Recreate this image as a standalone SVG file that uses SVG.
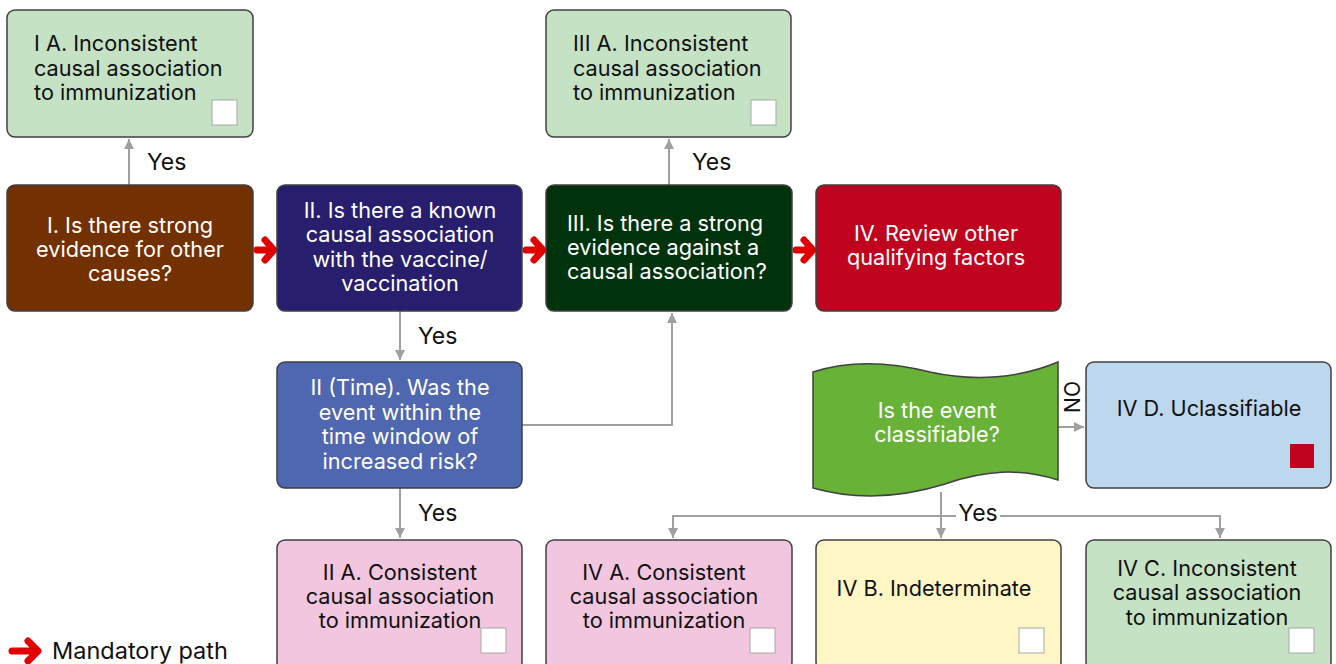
<svg xmlns="http://www.w3.org/2000/svg" width="1336" height="664" viewBox="0 0 1336 664">
<defs>
<style>
.box{stroke:#404040;stroke-width:1.5}
.t{font-family:Inter,"Liberation Sans",sans-serif;font-size:21.7px}
.y{font-size:23px}
.w{fill:#ffffff}
.k{fill:#111111}
.c{text-anchor:middle}
.con{fill:none;stroke:#a0a0a0;stroke-width:2}
.chk{fill:#ffffff;stroke:#a8a8a8;stroke-width:1}
.red{fill:none;stroke:#e00000;stroke-width:7;stroke-linecap:round;stroke-linejoin:round}
</style>
<marker id="ah2" viewBox="0 0 10 10" refX="10" refY="5" markerWidth="10" markerHeight="10" orient="auto" markerUnits="userSpaceOnUse">
<path d="M0,0 L10,5 L0,10 z" fill="#a0a0a0"/>
</marker>
</defs>
<rect width="1336" height="664" fill="#ffffff"/>

<g id="connectors">
<path class="con" d="M129,185 V139" marker-end="url(#ah2)"/>
<path class="con" d="M669,185 V139" marker-end="url(#ah2)"/>
<path class="con" d="M400,311 V360" marker-end="url(#ah2)"/>
<path class="con" d="M400,488 V538" marker-end="url(#ah2)"/>
<path class="con" d="M522,425 H672 V313" marker-end="url(#ah2)"/>
<path class="con" d="M1058,427 H1084" marker-end="url(#ah2)"/>
<path class="con" d="M941,492 V538" marker-end="url(#ah2)"/>
<path class="con" d="M941,516 H673 V538" marker-end="url(#ah2)"/>
<path class="con" d="M941,516 H1220 V538" marker-end="url(#ah2)"/>
<rect x="956" y="503" width="44" height="24" fill="#ffffff"/>
<text class="t y k" x="147" y="170">Yes</text>
<text class="t y k" x="692" y="170">Yes</text>
<text class="t y k" x="418" y="344">Yes</text>
<text class="t y k" x="418" y="521">Yes</text>
<text class="t y k c" x="978" y="521">Yes</text>
<text class="t k" x="0" y="0" transform="translate(1080,397) rotate(-90)" text-anchor="middle" style="font-size:21px">NO</text>
<path class="red" d="M257,250 H271 M265,240 L274,250 L265,260"/>
<path class="red" d="M526,250 H540 M534,240 L543,250 L534,260"/>
<path class="red" d="M796,250 H810 M804,240 L813,250 L804,260"/>
</g>

<g id="nodeIA">
<rect class="box" x="7" y="10" width="246" height="127" rx="8" fill="#c5e2c5"/>
<text class="t k" x="34" y="51">I A. Inconsistent</text>
<text class="t k" x="34" y="76">causal association</text>
<text class="t k" x="34" y="100">to immunization</text>
<rect class="chk" x="212" y="100" width="25" height="25"/>
</g>

<g id="nodeIIIA">
<rect class="box" x="546" y="10" width="245" height="127" rx="8" fill="#c5e2c5"/>
<text class="t k" x="573" y="51">III A. Inconsistent</text>
<text class="t k" x="573" y="76">causal association</text>
<text class="t k" x="573" y="100">to immunization</text>
<rect class="chk" x="751" y="100" width="25" height="25"/>
</g>

<g id="nodeI">
<rect class="box" x="7" y="185" width="246" height="126" rx="8" fill="#733000"/>
<text class="t w c" x="130" y="233">I. Is there strong</text>
<text class="t w c" x="130" y="257">evidence for other</text>
<text class="t w c" x="130" y="281">causes?</text>
</g>

<g id="nodeII">
<rect class="box" x="277" y="185" width="245" height="126" rx="8" fill="#271e6d"/>
<text class="t w c" x="400" y="218">II. Is there a known</text>
<text class="t w c" x="400" y="242">causal association</text>
<text class="t w c" x="400" y="267">with the vaccine/</text>
<text class="t w c" x="400" y="291">vaccination</text>
</g>

<g id="nodeIII">
<rect class="box" x="546" y="185" width="246" height="126" rx="8" fill="#00330c"/>
<text class="t w" x="567" y="231">III. Is there a strong</text>
<text class="t w" x="567" y="255">evidence against a</text>
<text class="t w" x="567" y="279">causal association?</text>
</g>

<g id="nodeIV">
<rect class="box" x="816" y="185" width="245" height="126" rx="8" fill="#c0041f"/>
<text class="t w c" x="936" y="241">IV. Review other</text>
<text class="t w c" x="936" y="265">qualifying factors</text>
</g>

<g id="nodeIITime">
<rect class="box" x="277" y="362" width="245" height="126" rx="8" fill="#4f66b0"/>
<text class="t w c" x="400" y="395">II (Time). Was the</text>
<text class="t w c" x="400" y="420">event within the</text>
<text class="t w c" x="400" y="444">time window of</text>
<text class="t w c" x="400" y="469">increased risk?</text>
</g>

<g id="nodeFlag">
<path class="box" fill="#67b237" d="M813,372 C850,360 890,362 930,372 C975,382 1020,378 1058,362 L1058,480 C1020,468 985,470 945,484 C900,498 855,500 813,488 Z"/>
<text class="t w c" x="937" y="418">Is the event</text>
<text class="t w c" x="937" y="442">classifiable?</text>
</g>

<g id="nodeIVD">
<rect class="box" x="1086" y="362" width="245" height="126" rx="8" fill="#bdd7ee"/>
<text class="t k c" x="1209" y="416">IV D. Uclassifiable</text>
<rect x="1290" y="444" width="24" height="24" fill="#c0041f"/>
</g>

<g id="nodeIIA">
<rect class="box" x="277" y="540" width="245" height="130" rx="8" fill="#f2c6de"/>
<text class="t k c" x="400" y="580">II A. Consistent</text>
<text class="t k c" x="400" y="604">causal association</text>
<text class="t k c" x="400" y="628">to immunization</text>
<rect class="chk" x="481" y="628" width="25" height="25"/>
</g>

<g id="nodeIVA">
<rect class="box" x="546" y="540" width="246" height="130" rx="8" fill="#f2c6de"/>
<text class="t k c" x="664" y="580">IV A. Consistent</text>
<text class="t k c" x="664" y="604">causal association</text>
<text class="t k c" x="664" y="628">to immunization</text>
<rect class="chk" x="750" y="628" width="25" height="25"/>
</g>

<g id="nodeIVB">
<rect class="box" x="816" y="540" width="245" height="130" rx="8" fill="#fff6c6"/>
<text class="t k c" x="934" y="596">IV B. Indeterminate</text>
<rect class="chk" x="1019" y="628" width="25" height="25"/>
</g>

<g id="nodeIVC">
<rect class="box" x="1086" y="540" width="245" height="130" rx="8" fill="#c5e2c5"/>
<text class="t k c" x="1207" y="576">IV C. Inconsistent</text>
<text class="t k c" x="1207" y="600">causal association</text>
<text class="t k c" x="1207" y="625">to immunization</text>
<rect class="chk" x="1289" y="628" width="25" height="25"/>
</g>

<g id="legend">
<path class="red" d="M12,651 H34 M28,641 L38,651 L28,661"/>
<text class="t k" x="52" y="659" style="font-size:23.5px">Mandatory path</text>
</g>
</svg>
